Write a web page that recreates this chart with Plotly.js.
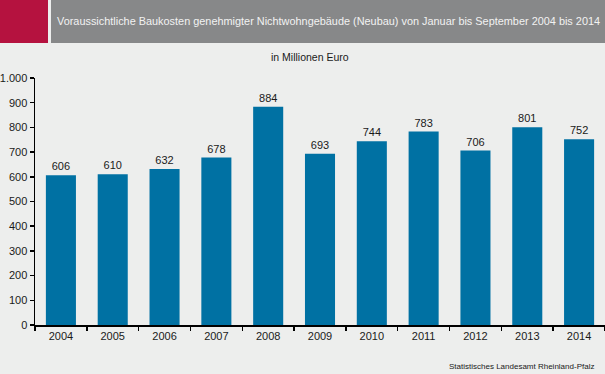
<!DOCTYPE html>
<html><head><meta charset="utf-8">
<script src="https://cdn.plot.ly/plotly-3.0.1.min.js"></script>
<style>html,body{margin:0;padding:0;background:#EDEEED;}</style>
</head><body><div id="chart" style="width:605px;height:374px;"></div>
<script>
const years = ["2004","2005","2006","2007","2008","2009","2010","2011","2012","2013","2014"];
const costs = [606,610,632,678,884,693,744,783,706,801,752];
const titleText = "Voraussichtliche Baukosten genehmigter Nichtwohngebäude (Neubau) von Januar bis September 2004 bis 2014";
const unitText = "in Millionen Euro";
const sourceText = "Statistisches Landesamt Rheinland-Pfalz";

// plot area in pixels: x 35..605, y 78..325
const L=35, R=605, T=78, B=325;
const px = X => (X-L)/(R-L);
const py = Y => (B-Y)/(B-T);

const trace = {
  type:"bar", x:years, y:costs,
  marker:{color:"#0071A3"},
  text:costs.map(String), textposition:"outside",
  textfont:{family:"Arial, Liberation Sans, sans-serif", size:11, color:"#1a1a1a"},
  cliponaxis:false, hoverinfo:"none"
};

const layout = {
  width:605, height:374,
  margin:{l:L, r:605-R, t:T, b:374-B, pad:0},
  paper_bgcolor:"#EDEEED", plot_bgcolor:"#EDEEED",
  separators:",.",
  bargap:0.42,
  showlegend:false,
  font:{family:"Arial, Liberation Sans, sans-serif", size:11, color:"#1a1a1a"},
  xaxis:{type:"category", showline:true, linecolor:"#000", linewidth:1.5,
         ticks:"outside", ticklen:4, tickcolor:"#000", tickwidth:1.5, tickson:"boundaries",
         showgrid:false, zeroline:false, fixedrange:true,
         tickfont:{size:11, color:"#1a1a1a"}},
  yaxis:{range:[0,1000], tickvals:[0,100,200,300,400,500,600,700,800,900,1000],
         tickformat:",d", showline:true, linecolor:"#000", linewidth:1.5,
         ticks:"outside", ticklen:4, tickcolor:"#000", tickwidth:1.5,
         showgrid:false, zeroline:false, fixedrange:true,
         tickfont:{size:11, color:"#1a1a1a"}},
  shapes:[
    {type:"rect", xref:"paper", yref:"paper", x0:px(0), x1:px(48), y0:py(43), y1:py(0),
     fillcolor:"#B5123F", line:{width:0}, layer:"above"},
    {type:"rect", xref:"paper", yref:"paper", x0:px(51), x1:px(605), y0:py(43), y1:py(0),
     fillcolor:"#878889", line:{width:0}, layer:"above"}
  ],
  annotations:[
    {text:titleText, xref:"paper", yref:"paper", x:px(55), y:py(21), xanchor:"left", yanchor:"middle",
     showarrow:false, font:{size:10.9, color:"#F2F2F2"}},
    {text:unitText, xref:"paper", yref:"paper", x:px(310), y:py(57), xanchor:"center", yanchor:"middle",
     showarrow:false, font:{size:10.5, color:"#1a1a1a"}},
    {text:sourceText, xref:"paper", yref:"paper", x:px(596), y:py(366), xanchor:"right", yanchor:"middle",
     showarrow:false, font:{size:8, color:"#1a1a1a"}}
  ]
};

Plotly.newPlot("chart",[trace],layout,{displayModeBar:false, staticPlot:true});
</script></body></html>
